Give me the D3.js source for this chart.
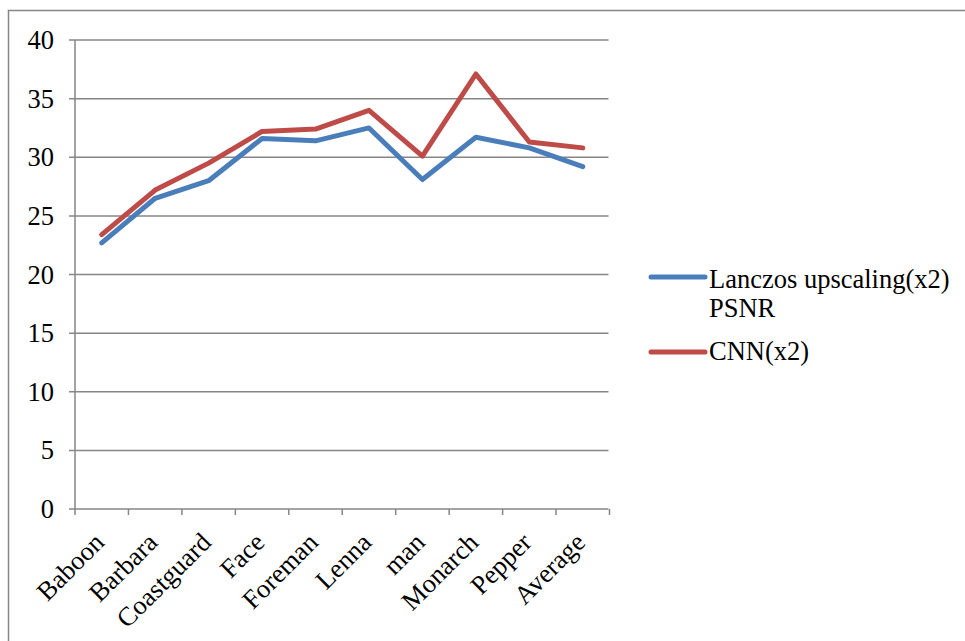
<!DOCTYPE html>
<html>
<head>
<meta charset="utf-8">
<script src="https://cdn.jsdelivr.net/npm/d3@7"></script>
<style>
  html, body { margin: 0; padding: 0; background: #fff; }
  svg { display: block; }
</style>
</head>
<body>
<svg id="chart" width="965" height="641"></svg>
<script>
// PSNR per test image, upscaling factor 2
const categories = ["Baboon", "Barbara", "Coastguard", "Face", "Foreman", "Lenna", "man", "Monarch", "Pepper", "Average"];
const lanczos = [22.7, 26.5, 28.0, 31.6, 31.4, 32.5, 28.1, 31.7, 30.8, 29.2];
const cnn = [23.4, 27.2, 29.5, 32.2, 32.4, 34.0, 30.1, 37.1, 31.3, 30.8];
const yTicks = [0, 5, 10, 15, 20, 25, 30, 35, 40];
const seriesNames = [["Lanczos upscaling(x2)", "PSNR"], ["CNN(x2)"]];
const seriesColors = ["#4a7ebb", "#be4b48"];

const FONT = "'Liberation Serif', 'Times New Roman', serif";
const FONT_SIZE = "26.5px";
const gridColor = "#868686";

// serif label helper
const styleText = sel => sel
  .style("font-family", FONT)
  .style("font-size", FONT_SIZE)
  .style("fill", "#000");

const svg = d3.select("#chart");

// outer frame
svg.append("rect")
  .attr("x", 8.5).attr("y", 10.5)
  .attr("width", 1000).attr("height", 700)
  .attr("fill", "none").attr("stroke", gridColor).attr("stroke-width", 1.5);

const plot = { left: 75, right: 609.5, top: 40, bottom: 509 };

const x = d3.scaleBand().domain(categories).range([plot.left, plot.right]);
const y = d3.scaleLinear().domain([0, 40]).range([plot.bottom, plot.top]);

// horizontal gridlines with small left tick
const gy = svg.append("g");
gy.selectAll("line").data(yTicks).join("line")
  .attr("x1", plot.left - 6).attr("x2", plot.right - 1)
  .attr("y1", d => y(d)).attr("y2", d => y(d))
  .attr("stroke", gridColor).attr("stroke-width", 1.5);

gy.selectAll("text").data(yTicks).join("text")
  .attr("x", 54).attr("y", d => y(d))
  .attr("dy", "0.34em")
  .attr("text-anchor", "end")
  .call(styleText)
  .text(d => d);

// vertical axis
svg.append("line")
  .attr("x1", plot.left).attr("x2", plot.left)
  .attr("y1", plot.top).attr("y2", plot.bottom)
  .attr("stroke", gridColor).attr("stroke-width", 1.5);

// category ticks
const bounds = categories.map(c => x(c)).concat([x(categories[categories.length - 1]) + x.bandwidth()]);
svg.append("g").selectAll("line").data(bounds).join("line")
  .attr("x1", d => d).attr("x2", d => d)
  .attr("y1", plot.bottom).attr("y2", plot.bottom + 6)
  .attr("stroke", gridColor).attr("stroke-width", 1.5);

// rotated category labels
svg.append("g").selectAll("text").data(categories).join("text")
  .attr("transform", d => `translate(${x(d) + x.bandwidth() / 2 + 4},${plot.bottom + 35}) rotate(-45)`)
  .attr("text-anchor", "end")
  .call(styleText)
  .text(d => d);

// series lines
const line = d3.line()
  .x((d, i) => x(categories[i]) + x.bandwidth() / 2)
  .y(d => y(d));

[lanczos, cnn].forEach((vals, i) => {
  svg.append("path")
    .datum(vals)
    .attr("d", line)
    .attr("fill", "none")
    .attr("stroke", seriesColors[i])
    .attr("stroke-width", 5)
    .attr("stroke-linejoin", "round")
    .attr("stroke-linecap", "round");
});

// legend
const legendY = [277, 352];
const legendBase = [288, 360];
seriesNames.forEach((parts, i) => {
  const g = svg.append("g");
  g.append("line")
    .attr("x1", 651).attr("x2", 705)
    .attr("y1", legendY[i]).attr("y2", legendY[i])
    .attr("stroke", seriesColors[i]).attr("stroke-width", 5)
    .attr("stroke-linecap", "round");
  const t = g.append("text")
    .attr("x", 709).attr("y", legendBase[i])
    .call(styleText);
  parts.forEach((part, j) => {
    t.append("tspan").attr("x", 709).attr("dy", j === 0 ? 0 : 29).text(part);
  });
});
</script>
</body>
</html>
